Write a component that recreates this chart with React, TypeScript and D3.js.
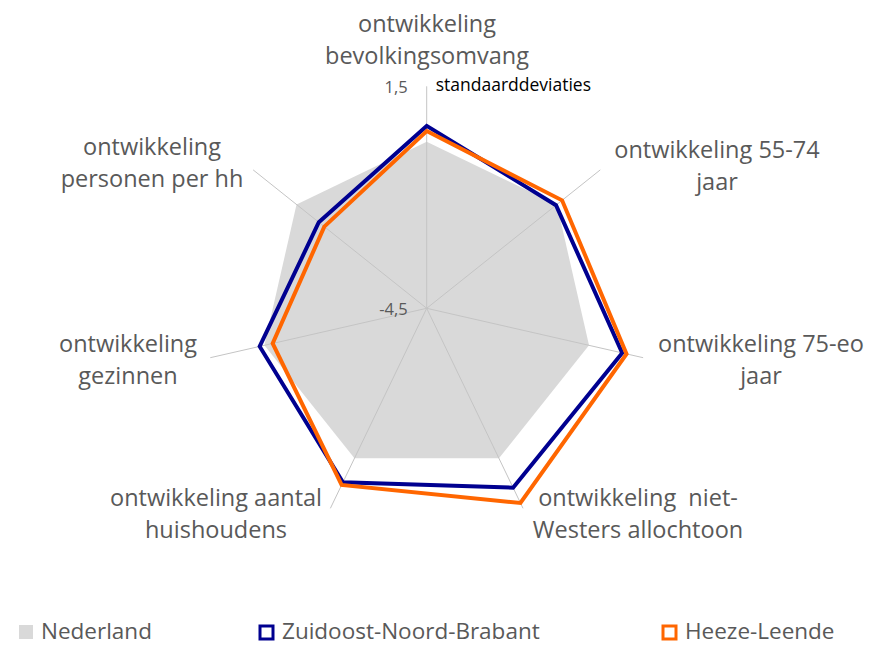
import React from "react";
import * as d3 from "d3";

const axisLabels: string[][] = [
  ["ontwikkeling", "bevolkingsomvang"],
  ["ontwikkeling 55-74", "jaar"],
  ["ontwikkeling 75-eo", "jaar"],
  ["ontwikkeling  niet-", "Westers allochtoon"],
  ["ontwikkeling aantal", "huishoudens"],
  ["ontwikkeling", "gezinnen"],
  ["ontwikkeling", "personen per hh"],
];

const nederland = [0, 0, 0, 0, 0, 0, 0];
const zuidoost = [0.43, -0.03, 0.92, 0.88, 0.72, 0.13, -0.77];
const heeze = [0.29, 0.18, 1.04, 1.34, 0.8, -0.23, -0.96];

const seriesNames = ["Nederland", "Zuidoost-Noord-Brabant", "Heeze-Leende"];
const scaleMin = -4.5;
const scaleMax = 1.5;

// label anchor points (centre of text block, first baseline)
const labelPos: [number, number][] = [
  [427, 32],
  [717, 158],
  [761, 352],
  [638, 506],
  [216, 506],
  [128, 352],
  [152, 155],
];

const App: React.FC = () => {
  const width = 872;
  const height = 647;
  const cx = 426.7;
  const cy = 308.3;
  const R = 222;
  const n = axisLabels.length;
  const angle = (i: number) => (i * 2 * Math.PI) / n;

  const r = d3.scaleLinear().domain([scaleMin, scaleMax]).range([0, R]);

  const line = d3
    .lineRadial<number>()
    .angle((_, i) => angle(i))
    .radius((d) => r(d))
    .curve(d3.curveLinearClosed);

  const textColor = "#595959";
  const font = "'Open Sans', sans-serif";

  return (
    <svg
      width={width}
      height={height}
      style={{ position: "absolute", left: 0, top: 0, background: "#fff" }}
    >
      <g transform={`translate(${cx},${cy})`}>
        <path d={line(nederland) || ""} fill="#d9d9d9" stroke="none" />
        {d3.range(n).map((i) => {
          const a = angle(i);
          return (
            <line
              key={i}
              x1={0}
              y1={0}
              x2={R * Math.sin(a)}
              y2={-R * Math.cos(a)}
              stroke="#c4c4c4"
              strokeWidth={1}
            />
          );
        })}
        <path
          d={line(zuidoost) || ""}
          fill="none"
          stroke="#000090"
          strokeWidth={4}
          strokeLinejoin="miter"
        />
        <path
          d={line(heeze) || ""}
          fill="none"
          stroke="#ff6600"
          strokeWidth={4}
          strokeLinejoin="miter"
        />
        {[scaleMax, scaleMin].map((v) => (
          <text
            key={v}
            x={-19}
            y={-r(v) + 7}
            textAnchor="end"
            fontFamily={font}
            fontSize={16.5}
            fill={textColor}
          >
            {String(v).replace(".", ",")}
          </text>
        ))}
        <text x={9} y={-R + 5} fontFamily={font} fontSize={17.5} fill="#000">
          standaarddeviaties
        </text>
      </g>
      {axisLabels.map((lines, i) => (
        <text
          key={i}
          x={labelPos[i][0]}
          y={labelPos[i][1]}
          textAnchor="middle"
          fontFamily={font}
          fontSize={23.5}
          fill={textColor}
          style={{ whiteSpace: "pre" }}
        >
          {lines.map((t, j) => (
            <tspan key={j} x={labelPos[i][0]} dy={j === 0 ? 0 : 32}>
              {t}
            </tspan>
          ))}
        </text>
      ))}
      <g fontFamily={font} fontSize={22.5} fill={textColor}>
        <rect x={19} y={625} width={14} height={14} fill="#d9d9d9" />
        <text x={41} y={639}>{seriesNames[0]}</text>
        <rect x={260} y={626} width={13} height={13} fill="#fff" stroke="#000090" strokeWidth={3} />
        <text x={282} y={639}>{seriesNames[1]}</text>
        <rect x={663} y={626} width={13} height={13} fill="#fff" stroke="#ff6600" strokeWidth={3} />
        <text x={685} y={639}>{seriesNames[2]}</text>
      </g>
    </svg>
  );
};

export default App;
